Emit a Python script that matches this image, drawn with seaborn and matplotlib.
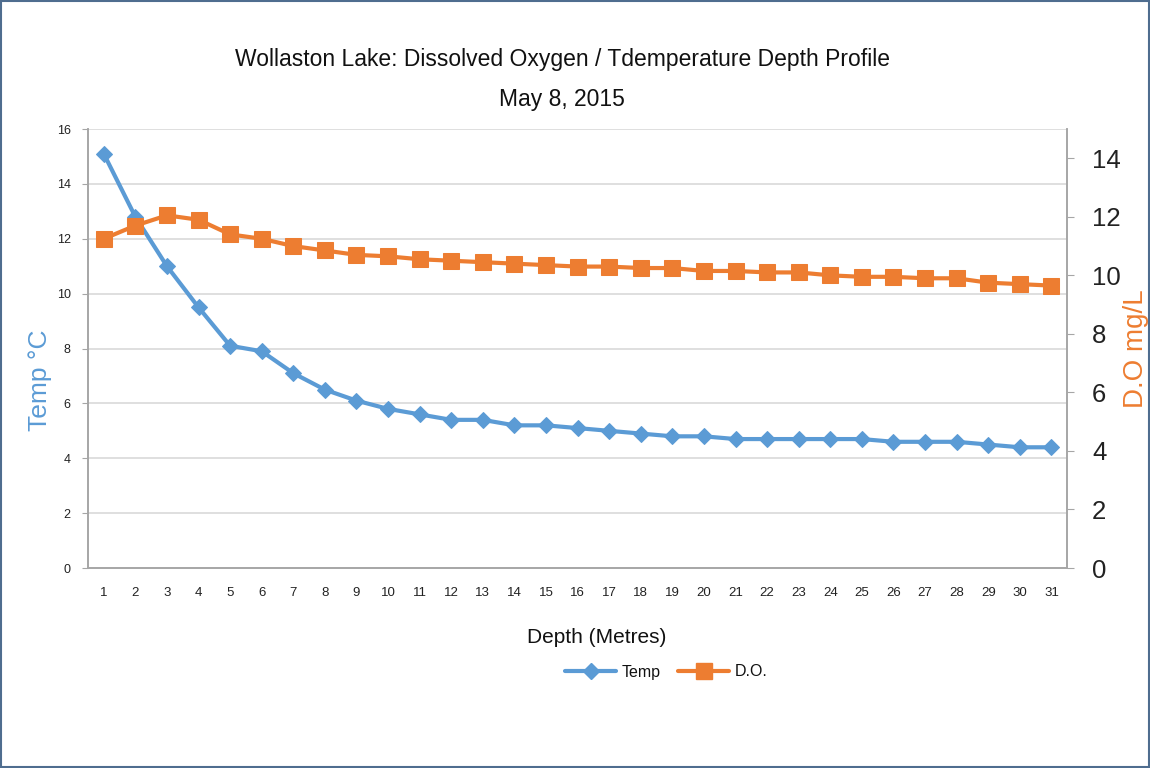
import numpy as np
import matplotlib
matplotlib.use('Agg')
import matplotlib.pyplot as plt
import pandas as pd
import seaborn as sns
from matplotlib.lines import Line2D
from matplotlib.patches import Rectangle

depth = list(range(1, 32))
temp = [15.1, 12.8, 11.0, 9.5, 8.1, 7.9, 7.1, 6.5, 6.1, 5.8,
        5.6, 5.4, 5.4, 5.2, 5.2, 5.1, 5.0, 4.9, 4.8, 4.8,
        4.7, 4.7, 4.7, 4.7, 4.7, 4.6, 4.6, 4.6, 4.5, 4.4, 4.4]
dissolved_oxygen = [11.25, 11.7, 12.05, 11.9, 11.4, 11.25, 11.0, 10.85, 10.7, 10.65,
                    10.55, 10.5, 10.45, 10.4, 10.35, 10.3, 10.3, 10.25, 10.25, 10.15,
                    10.15, 10.1, 10.1, 10.0, 9.95, 9.95, 9.9, 9.9, 9.75, 9.7, 9.65]

blue = '#5B9BD5'
orange = '#ED7D31'
grid_col = '#D9D9D9'
axis_col = '#A6A6A6'

sns.set_style('white')
plt.rcParams['font.family'] = ['Liberation Sans', 'DejaVu Sans']
plt.rcParams['text.color'] = '#111111'
plt.rcParams['axes.labelcolor'] = '#111111'
plt.rcParams['xtick.labelcolor'] = '#222222'
plt.rcParams['ytick.labelcolor'] = '#222222'

df = pd.DataFrame({'Depth': depth, 'Temp': temp, 'DO': dissolved_oxygen})

fig = plt.figure(figsize=(11.5, 7.68), dpi=100)
ax = fig.add_axes([0.0765, 0.2604, 0.8515, 0.5716])
ax2 = ax.twinx()

sns.lineplot(data=df, x='Depth', y='Temp', ax=ax, color=blue, linewidth=3,
             marker='D', markersize=8, markeredgecolor=blue)
sns.lineplot(data=df, x='Depth', y='DO', ax=ax2, color=orange, linewidth=3,
             marker='s', markersize=11, markeredgecolor=orange)

ax.set_xlim(0.5, 31.5)
ax.set_ylim(0, 16)
ax2.set_ylim(0, 15)
ax.set_yticks(range(0, 17, 2))
ax2.set_yticks(range(0, 15, 2))
ax.set_xticks(depth)
ax.set_xticks(np.arange(0.5, 32, 1), minor=True)
ax.tick_params(axis='x', which='major', length=0, labelsize=9.5, pad=14)
ax.tick_params(axis='x', which='minor', length=5, color=axis_col)
ax.tick_params(axis='y', length=4.5, color=axis_col, labelsize=9, pad=8)
ax2.tick_params(axis='y', length=5, color=axis_col, labelsize=18.5, pad=13)

for y in range(2, 17, 2):
    ax.axhline(y, color=grid_col, linewidth=1.2, zorder=0)

for a in (ax, ax2):
    a.spines['top'].set_visible(False)
    for side in ['left', 'right', 'bottom']:
        a.spines[side].set_color(axis_col)
        a.spines[side].set_linewidth(1.2)

ax.set_xlabel('Depth (Metres)', fontsize=15)
ax.xaxis.set_label_coords(0.52, -0.137)
ax.set_ylabel('Temp °C', fontsize=19, color=blue, ha='center', va='center')
ax.yaxis.set_label_coords(-0.049, 0.428)
ax2.set_ylabel('D.O mg/L', fontsize=20, color=orange, ha='center', va='center')
ax2.yaxis.set_label_coords(1.0705, 0.5)

fig.text(0.489, 0.922, 'Wollaston Lake: Dissolved Oxygen / Tdemperature Depth Profile',
         ha='center', va='center', fontsize=16.5)
fig.text(0.489, 0.870, 'May 8, 2015', ha='center', va='center', fontsize=16.5)

handles = [Line2D([], [], color=blue, linewidth=3, marker='D', markersize=8),
           Line2D([], [], color=orange, linewidth=3, marker='s', markersize=11)]
fig.legend(handles, ['Temp', 'D.O.'], loc='center', bbox_to_anchor=(0.5796, 0.125),
           ncol=2, frameon=False, fontsize=11.5, handlelength=3.2, columnspacing=1.1,
           handletextpad=0.35)

fig.patches.append(Rectangle((0.001, 0.001), 0.998, 0.998, transform=fig.transFigure,
                             fill=False, edgecolor='#4F6D8F', linewidth=1.5))

fig.savefig('out.png', dpi=100)
